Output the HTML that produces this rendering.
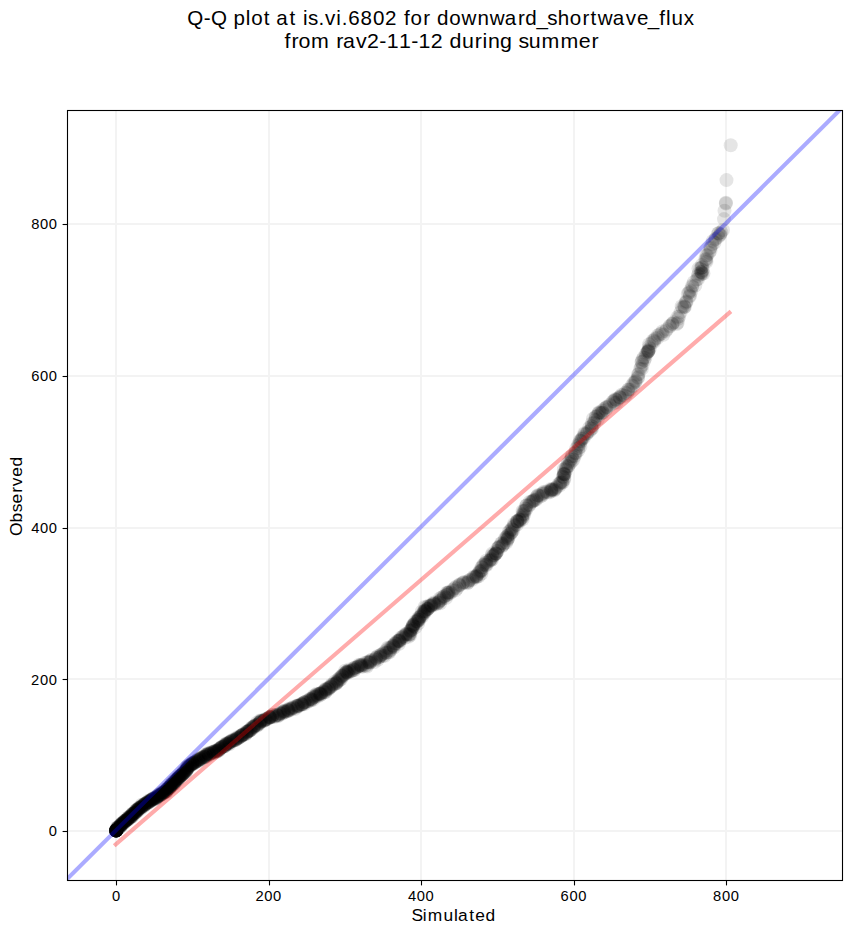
<!DOCTYPE html>
<html><head><meta charset="utf-8"><style>
html,body{margin:0;padding:0;background:#fff;overflow:hidden;}
svg{display:block;}
text{font-family:"Liberation Sans",sans-serif;fill:#000;}
</style></head><body>
<svg width="851" height="934" viewBox="0 0 851 934">
<rect width="851" height="934" fill="#fff"/>
<text x="180.13 195.81 202.97 218.53 224.64 236.40 241.50 253.69 260.60 265.68 278.45 285.36 291.33 296.27 306.16 312.54 323.42 328.52 334.75 346.65 358.55 370.08 382.23 388.58 394.75 406.97 414.32 420.21 432.01 443.82 459.17 470.98 485.39 498.20 505.06 515.85 526.19 536.31 547.87 560.10 567.87 574.83 589.24 601.72 612.48 622.94 634.01 640.36 645.63 657.57" y="24.75" font-size="19.8" transform="scale(1.04,1)">Q-Q plot at is.vi.6802 for downward_shortwave_flux</text>
<text x="263.32 269.88 276.34 288.01 305.14 311.43 317.54 329.60 339.85 351.28 358.04 369.50 380.80 387.55 398.88 410.58 416.26 427.77 439.68 446.78 451.80 463.01 474.59 480.02 489.69 501.44 518.92 535.89 547.66" y="47.7" font-size="19.8" transform="scale(1.08,1)">from rav2-11-12 during summer</text>
<defs><clipPath id="ax"><rect x="67.5" y="110.5" width="775.0" height="770.0"/></clipPath></defs>
<g stroke="#f3f3f3" stroke-width="2"><line x1="116" y1="110.5" x2="116" y2="880.5"/><line x1="269" y1="110.5" x2="269" y2="880.5"/><line x1="421" y1="110.5" x2="421" y2="880.5"/><line x1="574" y1="110.5" x2="574" y2="880.5"/><line x1="726" y1="110.5" x2="726" y2="880.5"/><line x1="67.5" y1="831" x2="842.5" y2="831"/><line x1="67.5" y1="679" x2="842.5" y2="679"/><line x1="67.5" y1="528" x2="842.5" y2="528"/><line x1="67.5" y1="376" x2="842.5" y2="376"/><line x1="67.5" y1="224" x2="842.5" y2="224"/></g>
<g clip-path="url(#ax)">
<g fill="#000" fill-opacity="0.1"><circle r="7.0" cx="116.3" cy="830.3"/><circle r="7.0" cx="116.0" cy="830.5"/><circle r="7.0" cx="116.1" cy="830.3"/><circle r="7.0" cx="117.2" cy="829.4"/><circle r="7.0" cx="116.6" cy="829.7"/><circle r="7.0" cx="117.4" cy="829.4"/><circle r="7.0" cx="117.0" cy="829.6"/><circle r="7.0" cx="117.7" cy="828.7"/><circle r="7.0" cx="117.0" cy="828.6"/><circle r="7.0" cx="116.6" cy="828.5"/><circle r="7.0" cx="117.2" cy="827.9"/><circle r="7.0" cx="117.7" cy="827.7"/><circle r="7.0" cx="118.3" cy="828.2"/><circle r="7.0" cx="117.3" cy="827.3"/><circle r="7.0" cx="118.6" cy="827.6"/><circle r="7.0" cx="118.0" cy="827.2"/><circle r="7.0" cx="118.3" cy="827.3"/><circle r="7.0" cx="119.2" cy="827.8"/><circle r="7.0" cx="119.6" cy="826.5"/><circle r="7.0" cx="119.2" cy="826.5"/><circle r="7.0" cx="119.7" cy="826.5"/><circle r="7.0" cx="119.4" cy="825.8"/><circle r="7.0" cx="120.0" cy="827.1"/><circle r="7.0" cx="120.5" cy="826.1"/><circle r="7.0" cx="120.8" cy="824.6"/><circle r="7.0" cx="120.5" cy="826.1"/><circle r="7.0" cx="120.9" cy="825.0"/><circle r="7.0" cx="121.0" cy="824.7"/><circle r="7.0" cx="121.2" cy="824.5"/><circle r="7.0" cx="121.6" cy="825.3"/><circle r="7.0" cx="121.4" cy="824.6"/><circle r="7.0" cx="121.3" cy="824.6"/><circle r="7.0" cx="121.5" cy="823.8"/><circle r="7.0" cx="122.8" cy="823.7"/><circle r="7.0" cx="121.6" cy="823.3"/><circle r="7.0" cx="121.9" cy="824.3"/><circle r="7.0" cx="122.6" cy="823.0"/><circle r="7.0" cx="123.6" cy="823.3"/><circle r="7.0" cx="122.9" cy="822.8"/><circle r="7.0" cx="123.9" cy="822.1"/><circle r="7.0" cx="123.4" cy="822.4"/><circle r="7.0" cx="123.9" cy="822.5"/><circle r="7.0" cx="123.6" cy="822.4"/><circle r="7.0" cx="124.1" cy="822.1"/><circle r="7.0" cx="125.2" cy="822.0"/><circle r="7.0" cx="125.0" cy="821.4"/><circle r="7.0" cx="125.2" cy="821.0"/><circle r="7.0" cx="125.4" cy="821.1"/><circle r="7.0" cx="125.2" cy="820.4"/><circle r="7.0" cx="124.3" cy="820.9"/><circle r="7.0" cx="125.4" cy="820.9"/><circle r="7.0" cx="127.0" cy="819.8"/><circle r="7.0" cx="125.8" cy="820.2"/><circle r="7.0" cx="126.8" cy="820.1"/><circle r="7.0" cx="126.6" cy="820.0"/><circle r="7.0" cx="127.4" cy="819.9"/><circle r="7.0" cx="126.8" cy="819.2"/><circle r="7.0" cx="127.0" cy="819.8"/><circle r="7.0" cx="127.3" cy="819.7"/><circle r="7.0" cx="128.3" cy="819.4"/><circle r="7.0" cx="127.9" cy="819.1"/><circle r="7.0" cx="127.4" cy="819.3"/><circle r="7.0" cx="128.3" cy="817.9"/><circle r="7.0" cx="128.4" cy="817.2"/><circle r="7.0" cx="128.6" cy="817.3"/><circle r="7.0" cx="129.1" cy="817.4"/><circle r="7.0" cx="128.9" cy="818.3"/><circle r="7.0" cx="130.5" cy="817.5"/><circle r="7.0" cx="129.6" cy="817.5"/><circle r="7.0" cx="129.6" cy="817.4"/><circle r="7.0" cx="130.4" cy="817.5"/><circle r="7.0" cx="130.1" cy="817.0"/><circle r="7.0" cx="130.0" cy="816.7"/><circle r="7.0" cx="131.2" cy="816.9"/><circle r="7.0" cx="131.4" cy="816.5"/><circle r="7.0" cx="130.8" cy="815.9"/><circle r="7.0" cx="131.3" cy="815.5"/><circle r="7.0" cx="131.4" cy="815.5"/><circle r="7.0" cx="131.2" cy="815.1"/><circle r="7.0" cx="132.4" cy="816.0"/><circle r="7.0" cx="132.0" cy="814.5"/><circle r="7.0" cx="132.5" cy="815.7"/><circle r="7.0" cx="132.4" cy="814.7"/><circle r="7.0" cx="132.6" cy="813.5"/><circle r="7.0" cx="133.2" cy="814.1"/><circle r="7.0" cx="133.3" cy="813.5"/><circle r="7.0" cx="133.3" cy="813.6"/><circle r="7.0" cx="133.0" cy="813.5"/><circle r="7.0" cx="134.3" cy="814.0"/><circle r="7.0" cx="134.4" cy="813.2"/><circle r="7.0" cx="134.1" cy="812.9"/><circle r="7.0" cx="134.7" cy="813.1"/><circle r="7.0" cx="134.9" cy="812.4"/><circle r="7.0" cx="135.7" cy="812.5"/><circle r="7.0" cx="135.3" cy="812.4"/><circle r="7.0" cx="135.4" cy="811.0"/><circle r="7.0" cx="136.1" cy="812.0"/><circle r="7.0" cx="136.5" cy="811.3"/><circle r="7.0" cx="136.8" cy="811.2"/><circle r="7.0" cx="136.8" cy="810.3"/><circle r="7.0" cx="136.5" cy="810.1"/><circle r="7.0" cx="137.4" cy="810.4"/><circle r="7.0" cx="138.3" cy="810.5"/><circle r="7.0" cx="136.3" cy="810.3"/><circle r="7.0" cx="137.4" cy="810.6"/><circle r="7.0" cx="138.1" cy="809.4"/><circle r="7.0" cx="136.6" cy="809.7"/><circle r="7.0" cx="138.3" cy="809.4"/><circle r="7.0" cx="138.4" cy="809.0"/><circle r="7.0" cx="137.9" cy="809.0"/><circle r="7.0" cx="138.5" cy="809.0"/><circle r="7.0" cx="139.0" cy="807.7"/><circle r="7.0" cx="139.6" cy="808.2"/><circle r="7.0" cx="139.2" cy="807.9"/><circle r="7.0" cx="139.3" cy="807.8"/><circle r="7.0" cx="140.0" cy="808.1"/><circle r="7.0" cx="140.7" cy="807.6"/><circle r="7.0" cx="140.8" cy="808.6"/><circle r="7.0" cx="141.2" cy="807.6"/><circle r="7.0" cx="140.7" cy="807.4"/><circle r="7.0" cx="141.6" cy="806.4"/><circle r="7.0" cx="141.8" cy="806.6"/><circle r="7.0" cx="142.4" cy="806.0"/><circle r="7.0" cx="141.4" cy="806.9"/><circle r="7.0" cx="141.6" cy="806.3"/><circle r="7.0" cx="141.6" cy="804.7"/><circle r="7.0" cx="143.5" cy="806.2"/><circle r="7.0" cx="142.6" cy="805.3"/><circle r="7.0" cx="144.0" cy="805.7"/><circle r="7.0" cx="143.8" cy="805.2"/><circle r="7.0" cx="144.4" cy="804.7"/><circle r="7.0" cx="144.6" cy="804.9"/><circle r="7.0" cx="144.5" cy="803.9"/><circle r="7.0" cx="145.2" cy="803.7"/><circle r="7.0" cx="144.7" cy="803.7"/><circle r="7.0" cx="144.9" cy="804.3"/><circle r="7.0" cx="146.7" cy="804.0"/><circle r="7.0" cx="146.1" cy="803.1"/><circle r="7.0" cx="145.3" cy="804.2"/><circle r="7.0" cx="146.5" cy="803.3"/><circle r="7.0" cx="146.3" cy="803.3"/><circle r="7.0" cx="146.9" cy="802.7"/><circle r="7.0" cx="147.7" cy="802.9"/><circle r="7.0" cx="148.2" cy="801.9"/><circle r="7.0" cx="147.6" cy="802.0"/><circle r="7.0" cx="148.3" cy="800.8"/><circle r="7.0" cx="149.1" cy="802.0"/><circle r="7.0" cx="148.9" cy="802.0"/><circle r="7.0" cx="148.9" cy="801.7"/><circle r="7.0" cx="149.3" cy="801.2"/><circle r="7.0" cx="150.1" cy="801.7"/><circle r="7.0" cx="149.6" cy="801.2"/><circle r="7.0" cx="150.7" cy="800.2"/><circle r="7.0" cx="150.5" cy="800.9"/><circle r="7.0" cx="150.1" cy="800.7"/><circle r="7.0" cx="151.4" cy="800.1"/><circle r="7.0" cx="151.1" cy="800.1"/><circle r="7.0" cx="151.6" cy="799.9"/><circle r="7.0" cx="151.4" cy="799.2"/><circle r="7.0" cx="152.3" cy="799.2"/><circle r="7.0" cx="152.5" cy="799.1"/><circle r="7.0" cx="153.0" cy="800.1"/><circle r="7.0" cx="152.9" cy="798.9"/><circle r="7.0" cx="152.9" cy="799.3"/><circle r="7.0" cx="154.7" cy="798.6"/><circle r="7.0" cx="153.7" cy="798.7"/><circle r="7.0" cx="154.1" cy="798.0"/><circle r="7.0" cx="153.8" cy="798.1"/><circle r="7.0" cx="154.7" cy="799.0"/><circle r="7.0" cx="156.0" cy="798.2"/><circle r="7.0" cx="155.7" cy="797.9"/><circle r="7.0" cx="156.0" cy="798.7"/><circle r="7.0" cx="155.2" cy="797.7"/><circle r="7.0" cx="156.9" cy="797.1"/><circle r="7.0" cx="156.3" cy="797.9"/><circle r="7.0" cx="156.4" cy="796.8"/><circle r="7.0" cx="157.2" cy="797.1"/><circle r="7.0" cx="157.5" cy="796.8"/><circle r="7.0" cx="157.6" cy="796.4"/><circle r="7.0" cx="157.9" cy="796.5"/><circle r="7.0" cx="159.1" cy="795.9"/><circle r="7.0" cx="158.7" cy="796.2"/><circle r="7.0" cx="158.4" cy="795.0"/><circle r="7.0" cx="157.9" cy="795.2"/><circle r="7.0" cx="159.9" cy="795.5"/><circle r="7.0" cx="158.8" cy="795.7"/><circle r="7.0" cx="159.5" cy="795.1"/><circle r="7.0" cx="161.3" cy="794.4"/><circle r="7.0" cx="160.1" cy="795.0"/><circle r="7.0" cx="160.3" cy="794.0"/><circle r="7.0" cx="160.5" cy="794.5"/><circle r="7.0" cx="160.7" cy="794.5"/><circle r="7.0" cx="162.2" cy="794.0"/><circle r="7.0" cx="161.9" cy="794.3"/><circle r="7.0" cx="162.1" cy="793.8"/><circle r="7.0" cx="162.1" cy="793.3"/><circle r="7.0" cx="161.7" cy="793.0"/><circle r="7.0" cx="163.0" cy="793.3"/><circle r="7.0" cx="163.6" cy="792.6"/><circle r="7.0" cx="162.6" cy="792.0"/><circle r="7.0" cx="163.9" cy="792.4"/><circle r="7.0" cx="164.3" cy="791.7"/><circle r="7.0" cx="163.8" cy="792.4"/><circle r="7.0" cx="164.6" cy="791.2"/><circle r="7.0" cx="164.1" cy="792.3"/><circle r="7.0" cx="165.6" cy="791.8"/><circle r="7.0" cx="165.5" cy="791.9"/><circle r="7.0" cx="165.1" cy="791.2"/><circle r="7.0" cx="166.5" cy="792.0"/><circle r="7.0" cx="166.3" cy="791.5"/><circle r="7.0" cx="165.9" cy="791.1"/><circle r="7.0" cx="166.8" cy="789.8"/><circle r="7.0" cx="166.8" cy="789.2"/><circle r="7.0" cx="166.9" cy="790.2"/><circle r="7.0" cx="167.0" cy="789.5"/><circle r="7.0" cx="167.4" cy="789.5"/><circle r="7.0" cx="167.4" cy="788.8"/><circle r="7.0" cx="167.2" cy="788.9"/><circle r="7.0" cx="168.6" cy="788.2"/><circle r="7.0" cx="168.0" cy="787.7"/><circle r="7.0" cx="168.1" cy="788.2"/><circle r="7.0" cx="169.1" cy="788.3"/><circle r="7.0" cx="169.5" cy="788.4"/><circle r="7.0" cx="169.5" cy="787.6"/><circle r="7.0" cx="169.6" cy="786.6"/><circle r="7.0" cx="170.1" cy="786.6"/><circle r="7.0" cx="169.7" cy="787.0"/><circle r="7.0" cx="170.3" cy="786.3"/><circle r="7.0" cx="170.6" cy="786.8"/><circle r="7.0" cx="170.2" cy="786.5"/><circle r="7.0" cx="170.9" cy="786.3"/><circle r="7.0" cx="170.6" cy="784.9"/><circle r="7.0" cx="171.4" cy="786.1"/><circle r="7.0" cx="171.1" cy="784.8"/><circle r="7.0" cx="171.7" cy="784.2"/><circle r="7.0" cx="171.6" cy="784.4"/><circle r="7.0" cx="172.4" cy="784.7"/><circle r="7.0" cx="172.4" cy="784.5"/><circle r="7.0" cx="171.8" cy="784.0"/><circle r="7.0" cx="173.7" cy="784.2"/><circle r="7.0" cx="173.4" cy="783.4"/><circle r="7.0" cx="173.7" cy="783.1"/><circle r="7.0" cx="174.2" cy="783.8"/><circle r="7.0" cx="173.1" cy="782.4"/><circle r="7.0" cx="174.1" cy="781.6"/><circle r="7.0" cx="174.5" cy="782.6"/><circle r="7.0" cx="174.1" cy="781.5"/><circle r="7.0" cx="174.5" cy="783.1"/><circle r="7.0" cx="175.1" cy="781.9"/><circle r="7.0" cx="175.4" cy="781.9"/><circle r="7.0" cx="175.0" cy="781.3"/><circle r="7.0" cx="176.0" cy="779.8"/><circle r="7.0" cx="176.3" cy="780.8"/><circle r="7.0" cx="175.4" cy="780.5"/><circle r="7.0" cx="176.4" cy="779.8"/><circle r="7.0" cx="176.8" cy="779.7"/><circle r="7.0" cx="176.7" cy="779.0"/><circle r="7.0" cx="177.8" cy="778.7"/><circle r="7.0" cx="178.1" cy="779.7"/><circle r="7.0" cx="177.5" cy="778.5"/><circle r="7.0" cx="177.6" cy="778.5"/><circle r="7.0" cx="177.8" cy="778.6"/><circle r="7.0" cx="178.7" cy="778.2"/><circle r="7.0" cx="178.8" cy="777.9"/><circle r="7.0" cx="178.4" cy="777.6"/><circle r="7.0" cx="178.9" cy="777.4"/><circle r="7.0" cx="179.6" cy="777.1"/><circle r="7.0" cx="179.3" cy="776.2"/><circle r="7.0" cx="179.2" cy="776.3"/><circle r="7.0" cx="179.4" cy="776.9"/><circle r="7.0" cx="180.5" cy="776.0"/><circle r="7.0" cx="180.5" cy="775.9"/><circle r="7.0" cx="180.4" cy="775.8"/><circle r="7.0" cx="180.9" cy="775.4"/><circle r="7.0" cx="181.0" cy="775.5"/><circle r="7.0" cx="181.8" cy="774.8"/><circle r="7.0" cx="181.7" cy="774.7"/><circle r="7.0" cx="181.7" cy="775.1"/><circle r="7.0" cx="182.7" cy="774.2"/><circle r="7.0" cx="182.9" cy="773.8"/><circle r="7.0" cx="182.6" cy="773.4"/><circle r="7.0" cx="183.5" cy="773.5"/><circle r="7.0" cx="182.9" cy="773.7"/><circle r="7.0" cx="184.3" cy="772.6"/><circle r="7.0" cx="184.4" cy="772.9"/><circle r="7.0" cx="184.0" cy="771.4"/><circle r="7.0" cx="183.4" cy="773.0"/><circle r="7.0" cx="184.2" cy="772.5"/><circle r="7.0" cx="184.2" cy="771.4"/><circle r="7.0" cx="185.5" cy="771.9"/><circle r="7.0" cx="186.0" cy="770.4"/><circle r="7.0" cx="186.2" cy="771.2"/><circle r="7.0" cx="185.4" cy="770.9"/><circle r="7.0" cx="185.8" cy="769.9"/><circle r="7.0" cx="186.4" cy="770.0"/><circle r="7.0" cx="186.6" cy="770.2"/><circle r="7.0" cx="186.8" cy="769.0"/><circle r="7.0" cx="187.4" cy="768.7"/><circle r="7.0" cx="187.1" cy="768.9"/><circle r="7.0" cx="187.2" cy="768.9"/><circle r="7.0" cx="187.0" cy="767.4"/><circle r="7.0" cx="187.8" cy="767.6"/><circle r="7.0" cx="187.2" cy="767.1"/><circle r="7.0" cx="187.7" cy="767.4"/><circle r="7.0" cx="187.4" cy="766.3"/><circle r="7.0" cx="189.1" cy="766.7"/><circle r="7.0" cx="188.6" cy="766.1"/><circle r="7.0" cx="188.6" cy="767.3"/><circle r="7.0" cx="189.4" cy="765.4"/><circle r="7.0" cx="190.5" cy="765.2"/><circle r="7.0" cx="190.3" cy="765.6"/><circle r="7.0" cx="190.6" cy="764.9"/><circle r="7.0" cx="190.4" cy="764.6"/><circle r="7.0" cx="191.9" cy="764.5"/><circle r="7.0" cx="191.1" cy="764.4"/><circle r="7.0" cx="192.2" cy="763.9"/><circle r="7.0" cx="192.5" cy="763.6"/><circle r="7.0" cx="191.9" cy="763.4"/><circle r="7.0" cx="192.8" cy="763.3"/><circle r="7.0" cx="192.5" cy="764.2"/><circle r="7.0" cx="193.1" cy="762.7"/><circle r="7.0" cx="192.7" cy="763.1"/><circle r="7.0" cx="194.4" cy="763.0"/><circle r="7.0" cx="194.2" cy="762.8"/><circle r="7.0" cx="194.7" cy="762.8"/><circle r="7.0" cx="194.8" cy="762.8"/><circle r="7.0" cx="195.1" cy="761.5"/><circle r="7.0" cx="195.8" cy="761.2"/><circle r="7.0" cx="195.6" cy="761.8"/><circle r="7.0" cx="196.2" cy="761.4"/><circle r="7.0" cx="196.6" cy="761.6"/><circle r="7.0" cx="197.4" cy="760.3"/><circle r="7.0" cx="198.8" cy="761.0"/><circle r="7.0" cx="197.8" cy="760.4"/><circle r="7.0" cx="198.3" cy="760.9"/><circle r="7.0" cx="198.2" cy="759.5"/><circle r="7.0" cx="198.5" cy="760.1"/><circle r="7.0" cx="198.0" cy="759.2"/><circle r="7.0" cx="199.3" cy="759.8"/><circle r="7.0" cx="199.9" cy="759.0"/><circle r="7.0" cx="200.2" cy="759.3"/><circle r="7.0" cx="200.4" cy="759.1"/><circle r="7.0" cx="200.4" cy="758.6"/><circle r="7.0" cx="201.6" cy="758.8"/><circle r="7.0" cx="201.4" cy="757.8"/><circle r="7.0" cx="202.3" cy="757.6"/><circle r="7.0" cx="201.6" cy="757.3"/><circle r="7.0" cx="203.9" cy="756.7"/><circle r="7.0" cx="203.4" cy="757.7"/><circle r="7.0" cx="204.6" cy="756.9"/><circle r="7.0" cx="203.7" cy="756.8"/><circle r="7.0" cx="204.8" cy="757.1"/><circle r="7.0" cx="204.5" cy="756.9"/><circle r="7.0" cx="206.3" cy="756.7"/><circle r="7.0" cx="205.8" cy="756.1"/><circle r="7.0" cx="205.6" cy="754.8"/><circle r="7.0" cx="206.3" cy="755.4"/><circle r="7.0" cx="206.5" cy="755.8"/><circle r="7.0" cx="206.7" cy="754.4"/><circle r="7.0" cx="206.9" cy="754.8"/><circle r="7.0" cx="207.4" cy="754.6"/><circle r="7.0" cx="208.0" cy="753.3"/><circle r="7.0" cx="209.0" cy="754.3"/><circle r="7.0" cx="209.2" cy="755.1"/><circle r="7.0" cx="208.5" cy="753.4"/><circle r="7.0" cx="209.2" cy="753.4"/><circle r="7.0" cx="209.2" cy="754.1"/><circle r="7.0" cx="209.8" cy="754.0"/><circle r="7.0" cx="210.9" cy="753.5"/><circle r="7.0" cx="211.1" cy="753.0"/><circle r="7.0" cx="211.3" cy="752.8"/><circle r="7.0" cx="211.7" cy="752.0"/><circle r="7.0" cx="213.8" cy="753.0"/><circle r="7.0" cx="213.4" cy="752.9"/><circle r="7.0" cx="213.8" cy="751.6"/><circle r="7.0" cx="213.6" cy="752.1"/><circle r="7.0" cx="214.1" cy="751.7"/><circle r="7.0" cx="214.3" cy="751.5"/><circle r="7.0" cx="214.5" cy="751.1"/><circle r="7.0" cx="215.8" cy="752.4"/><circle r="7.0" cx="215.9" cy="750.9"/><circle r="7.0" cx="215.8" cy="751.5"/><circle r="7.0" cx="216.9" cy="750.5"/><circle r="7.0" cx="217.1" cy="750.7"/><circle r="7.0" cx="217.4" cy="751.2"/><circle r="7.0" cx="217.6" cy="750.4"/><circle r="7.0" cx="217.8" cy="751.1"/><circle r="7.0" cx="218.1" cy="749.6"/><circle r="7.0" cx="219.3" cy="749.5"/><circle r="7.0" cx="219.1" cy="750.2"/><circle r="7.0" cx="219.7" cy="749.3"/><circle r="7.0" cx="220.1" cy="748.2"/><circle r="7.0" cx="219.4" cy="748.6"/><circle r="7.0" cx="220.1" cy="748.4"/><circle r="7.0" cx="221.2" cy="747.5"/><circle r="7.0" cx="222.4" cy="747.3"/><circle r="7.0" cx="221.2" cy="747.7"/><circle r="7.0" cx="221.8" cy="747.1"/><circle r="7.0" cx="222.6" cy="746.2"/><circle r="7.0" cx="222.1" cy="746.9"/><circle r="7.0" cx="223.6" cy="746.7"/><circle r="7.0" cx="224.1" cy="746.2"/><circle r="7.0" cx="224.5" cy="746.0"/><circle r="7.0" cx="225.2" cy="746.0"/><circle r="7.0" cx="225.3" cy="745.3"/><circle r="7.0" cx="225.0" cy="744.5"/><circle r="7.0" cx="225.9" cy="744.6"/><circle r="7.0" cx="226.5" cy="743.5"/><circle r="7.0" cx="226.2" cy="744.6"/><circle r="7.0" cx="226.5" cy="743.3"/><circle r="7.0" cx="227.2" cy="743.9"/><circle r="7.0" cx="227.7" cy="743.7"/><circle r="7.0" cx="228.1" cy="743.7"/><circle r="7.0" cx="229.1" cy="742.8"/><circle r="7.0" cx="229.3" cy="744.2"/><circle r="7.0" cx="229.1" cy="742.6"/><circle r="7.0" cx="229.7" cy="742.9"/><circle r="7.0" cx="230.3" cy="741.9"/><circle r="7.0" cx="230.1" cy="741.7"/><circle r="7.0" cx="230.2" cy="741.9"/><circle r="7.0" cx="231.1" cy="740.9"/><circle r="7.0" cx="232.0" cy="741.2"/><circle r="7.0" cx="231.9" cy="740.2"/><circle r="7.0" cx="233.4" cy="740.9"/><circle r="7.0" cx="233.0" cy="740.6"/><circle r="7.0" cx="233.7" cy="740.6"/><circle r="7.0" cx="233.6" cy="739.6"/><circle r="7.0" cx="235.2" cy="740.2"/><circle r="7.0" cx="235.2" cy="740.0"/><circle r="7.0" cx="235.5" cy="739.7"/><circle r="7.0" cx="237.1" cy="738.2"/><circle r="7.0" cx="236.4" cy="739.1"/><circle r="7.0" cx="236.9" cy="738.3"/><circle r="7.0" cx="237.3" cy="738.9"/><circle r="7.0" cx="237.1" cy="737.3"/><circle r="7.0" cx="238.1" cy="737.7"/><circle r="7.0" cx="239.0" cy="737.9"/><circle r="7.0" cx="238.7" cy="737.8"/><circle r="7.0" cx="240.5" cy="736.7"/><circle r="7.0" cx="240.1" cy="736.9"/><circle r="7.0" cx="241.1" cy="736.0"/><circle r="7.0" cx="240.5" cy="735.7"/><circle r="7.0" cx="241.7" cy="735.8"/><circle r="7.0" cx="241.7" cy="735.2"/><circle r="7.0" cx="242.1" cy="735.1"/><circle r="7.0" cx="241.9" cy="735.3"/><circle r="7.0" cx="243.3" cy="734.5"/><circle r="7.0" cx="243.0" cy="734.1"/><circle r="7.0" cx="243.5" cy="734.8"/><circle r="7.0" cx="243.8" cy="734.3"/><circle r="7.0" cx="246.1" cy="733.6"/><circle r="7.0" cx="245.7" cy="734.4"/><circle r="7.0" cx="245.9" cy="733.4"/><circle r="7.0" cx="246.8" cy="732.3"/><circle r="7.0" cx="246.5" cy="731.5"/><circle r="7.0" cx="247.5" cy="731.7"/><circle r="7.0" cx="247.0" cy="732.2"/><circle r="7.0" cx="248.2" cy="731.3"/><circle r="7.0" cx="248.4" cy="731.0"/><circle r="7.0" cx="247.4" cy="731.4"/><circle r="7.0" cx="249.6" cy="730.7"/><circle r="7.0" cx="249.5" cy="730.2"/><circle r="7.0" cx="250.0" cy="730.5"/><circle r="7.0" cx="249.9" cy="729.3"/><circle r="7.0" cx="250.5" cy="730.2"/><circle r="7.0" cx="251.2" cy="729.6"/><circle r="7.0" cx="251.7" cy="727.5"/><circle r="7.0" cx="251.2" cy="728.6"/><circle r="7.0" cx="252.7" cy="727.3"/><circle r="7.0" cx="253.0" cy="728.2"/><circle r="7.0" cx="253.7" cy="727.1"/><circle r="7.0" cx="253.6" cy="726.4"/><circle r="7.0" cx="253.8" cy="726.7"/><circle r="7.0" cx="254.4" cy="725.8"/><circle r="7.0" cx="254.7" cy="726.0"/><circle r="7.0" cx="255.7" cy="724.9"/><circle r="7.0" cx="256.4" cy="724.9"/><circle r="7.0" cx="257.0" cy="725.2"/><circle r="7.0" cx="257.2" cy="725.9"/><circle r="7.0" cx="257.3" cy="724.7"/><circle r="7.0" cx="259.2" cy="724.1"/><circle r="7.0" cx="256.8" cy="722.8"/><circle r="7.0" cx="259.2" cy="723.1"/><circle r="7.0" cx="259.2" cy="723.2"/><circle r="7.0" cx="259.8" cy="722.5"/><circle r="7.0" cx="260.3" cy="721.7"/><circle r="7.0" cx="260.0" cy="720.4"/><circle r="7.0" cx="261.1" cy="720.7"/><circle r="7.0" cx="260.7" cy="721.5"/><circle r="7.0" cx="261.4" cy="721.6"/><circle r="7.0" cx="261.2" cy="720.8"/><circle r="7.0" cx="263.2" cy="720.4"/><circle r="7.0" cx="263.5" cy="721.0"/><circle r="7.0" cx="264.2" cy="720.7"/><circle r="7.0" cx="264.7" cy="719.7"/><circle r="7.0" cx="265.0" cy="720.3"/><circle r="7.0" cx="265.2" cy="719.3"/><circle r="7.0" cx="265.4" cy="719.4"/><circle r="7.0" cx="266.5" cy="719.6"/><circle r="7.0" cx="266.6" cy="719.1"/><circle r="7.0" cx="267.8" cy="718.4"/><circle r="7.0" cx="269.1" cy="717.3"/><circle r="7.0" cx="269.7" cy="717.5"/><circle r="7.0" cx="268.9" cy="718.4"/><circle r="7.0" cx="269.9" cy="717.0"/><circle r="7.0" cx="270.2" cy="717.3"/><circle r="7.0" cx="269.5" cy="717.3"/><circle r="7.0" cx="269.8" cy="717.2"/><circle r="7.0" cx="271.4" cy="717.1"/><circle r="7.0" cx="272.1" cy="716.0"/><circle r="7.0" cx="272.1" cy="716.8"/><circle r="7.0" cx="272.5" cy="715.1"/><circle r="7.0" cx="273.1" cy="714.7"/><circle r="7.0" cx="274.5" cy="717.0"/><circle r="7.0" cx="274.5" cy="716.3"/><circle r="7.0" cx="275.7" cy="715.6"/><circle r="7.0" cx="276.9" cy="714.9"/><circle r="7.0" cx="277.6" cy="716.1"/><circle r="7.0" cx="277.0" cy="715.0"/><circle r="7.0" cx="278.3" cy="714.9"/><circle r="7.0" cx="279.1" cy="714.8"/><circle r="7.0" cx="278.6" cy="715.8"/><circle r="7.0" cx="280.5" cy="713.2"/><circle r="7.0" cx="279.9" cy="713.4"/><circle r="7.0" cx="280.1" cy="713.4"/><circle r="7.0" cx="283.4" cy="712.2"/><circle r="7.0" cx="281.9" cy="713.8"/><circle r="7.0" cx="282.3" cy="711.9"/><circle r="7.0" cx="283.2" cy="713.1"/><circle r="7.0" cx="284.4" cy="711.1"/><circle r="7.0" cx="284.6" cy="712.3"/><circle r="7.0" cx="283.7" cy="711.0"/><circle r="7.0" cx="283.9" cy="711.3"/><circle r="7.0" cx="286.0" cy="711.6"/><circle r="7.0" cx="288.2" cy="710.3"/><circle r="7.0" cx="286.9" cy="711.5"/><circle r="7.0" cx="288.9" cy="710.3"/><circle r="7.0" cx="287.6" cy="709.6"/><circle r="7.0" cx="287.9" cy="710.0"/><circle r="7.0" cx="288.4" cy="711.1"/><circle r="7.0" cx="289.7" cy="708.4"/><circle r="7.0" cx="290.8" cy="708.6"/><circle r="7.0" cx="291.3" cy="708.9"/><circle r="7.0" cx="290.9" cy="709.8"/><circle r="7.0" cx="292.1" cy="708.3"/><circle r="7.0" cx="293.4" cy="707.8"/><circle r="7.0" cx="293.1" cy="707.1"/><circle r="7.0" cx="294.9" cy="707.8"/><circle r="7.0" cx="296.3" cy="705.9"/><circle r="7.0" cx="295.3" cy="708.9"/><circle r="7.0" cx="298.2" cy="706.0"/><circle r="7.0" cx="297.2" cy="706.8"/><circle r="7.0" cx="296.9" cy="706.0"/><circle r="7.0" cx="297.6" cy="705.7"/><circle r="7.0" cx="298.6" cy="706.1"/><circle r="7.0" cx="298.2" cy="705.3"/><circle r="7.0" cx="299.2" cy="705.2"/><circle r="7.0" cx="301.2" cy="704.2"/><circle r="7.0" cx="301.6" cy="704.5"/><circle r="7.0" cx="301.9" cy="704.3"/><circle r="7.0" cx="302.1" cy="703.8"/><circle r="7.0" cx="302.4" cy="704.5"/><circle r="7.0" cx="304.1" cy="704.2"/><circle r="7.0" cx="303.6" cy="702.6"/><circle r="7.0" cx="304.6" cy="702.2"/><circle r="7.0" cx="305.9" cy="701.6"/><circle r="7.0" cx="304.1" cy="702.4"/><circle r="7.0" cx="304.9" cy="702.3"/><circle r="7.0" cx="307.8" cy="701.1"/><circle r="7.0" cx="307.1" cy="702.2"/><circle r="7.0" cx="309.1" cy="699.5"/><circle r="7.0" cx="308.9" cy="700.7"/><circle r="7.0" cx="311.6" cy="699.7"/><circle r="7.0" cx="310.6" cy="700.6"/><circle r="7.0" cx="311.2" cy="699.3"/><circle r="7.0" cx="310.1" cy="699.0"/><circle r="7.0" cx="311.0" cy="699.1"/><circle r="7.0" cx="312.3" cy="698.2"/><circle r="7.0" cx="313.2" cy="699.9"/><circle r="7.0" cx="313.3" cy="697.5"/><circle r="7.0" cx="314.9" cy="697.0"/><circle r="7.0" cx="313.8" cy="696.8"/><circle r="7.0" cx="313.7" cy="695.7"/><circle r="7.0" cx="316.0" cy="696.4"/><circle r="7.0" cx="315.6" cy="695.1"/><circle r="7.0" cx="317.3" cy="695.2"/><circle r="7.0" cx="317.1" cy="694.7"/><circle r="7.0" cx="316.6" cy="693.8"/><circle r="7.0" cx="317.7" cy="696.5"/><circle r="7.0" cx="319.4" cy="693.7"/><circle r="7.0" cx="319.2" cy="693.8"/><circle r="7.0" cx="320.6" cy="693.4"/><circle r="7.0" cx="319.7" cy="693.8"/><circle r="7.0" cx="321.1" cy="693.0"/><circle r="7.0" cx="322.3" cy="692.0"/><circle r="7.0" cx="324.0" cy="692.3"/><circle r="7.0" cx="324.1" cy="691.1"/><circle r="7.0" cx="325.6" cy="691.9"/><circle r="7.0" cx="325.3" cy="692.3"/><circle r="7.0" cx="325.9" cy="690.3"/><circle r="7.0" cx="325.3" cy="689.4"/><circle r="7.0" cx="326.0" cy="689.8"/><circle r="7.0" cx="325.5" cy="688.9"/><circle r="7.0" cx="328.2" cy="688.6"/><circle r="7.0" cx="328.6" cy="689.4"/><circle r="7.0" cx="328.0" cy="688.5"/><circle r="7.0" cx="329.3" cy="688.1"/><circle r="7.0" cx="331.2" cy="686.8"/><circle r="7.0" cx="329.3" cy="687.7"/><circle r="7.0" cx="329.4" cy="686.7"/><circle r="7.0" cx="331.6" cy="684.5"/><circle r="7.0" cx="331.1" cy="686.5"/><circle r="7.0" cx="333.7" cy="684.9"/><circle r="7.0" cx="332.4" cy="684.8"/><circle r="7.0" cx="333.5" cy="683.9"/><circle r="7.0" cx="335.3" cy="683.6"/><circle r="7.0" cx="336.2" cy="683.5"/><circle r="7.0" cx="336.4" cy="683.5"/><circle r="7.0" cx="334.9" cy="681.5"/><circle r="7.0" cx="336.3" cy="682.4"/><circle r="7.0" cx="337.1" cy="682.4"/><circle r="7.0" cx="337.8" cy="679.7"/><circle r="7.0" cx="338.5" cy="680.9"/><circle r="7.0" cx="339.8" cy="680.0"/><circle r="7.0" cx="337.6" cy="681.3"/><circle r="7.0" cx="338.8" cy="679.0"/><circle r="7.0" cx="339.6" cy="677.9"/><circle r="7.0" cx="340.9" cy="679.2"/><circle r="7.0" cx="341.7" cy="675.7"/><circle r="7.0" cx="340.6" cy="677.6"/><circle r="7.0" cx="342.6" cy="676.5"/><circle r="7.0" cx="342.7" cy="675.3"/><circle r="7.0" cx="342.3" cy="675.9"/><circle r="7.0" cx="344.4" cy="674.8"/><circle r="7.0" cx="344.1" cy="674.0"/><circle r="7.0" cx="346.6" cy="672.3"/><circle r="7.0" cx="345.9" cy="672.3"/><circle r="7.0" cx="345.7" cy="673.2"/><circle r="7.0" cx="347.4" cy="672.6"/><circle r="7.0" cx="348.0" cy="672.8"/><circle r="7.0" cx="346.8" cy="671.6"/><circle r="7.0" cx="348.8" cy="671.1"/><circle r="7.0" cx="349.6" cy="671.8"/><circle r="7.0" cx="351.1" cy="670.8"/><circle r="7.0" cx="348.8" cy="670.9"/><circle r="7.0" cx="349.0" cy="669.4"/><circle r="7.0" cx="351.3" cy="671.2"/><circle r="7.0" cx="353.0" cy="670.0"/><circle r="7.0" cx="354.2" cy="670.0"/><circle r="7.0" cx="353.2" cy="668.6"/><circle r="7.0" cx="354.3" cy="668.3"/><circle r="7.0" cx="354.6" cy="667.5"/><circle r="7.0" cx="354.7" cy="669.7"/><circle r="7.0" cx="355.5" cy="667.9"/><circle r="7.0" cx="357.6" cy="666.9"/><circle r="7.0" cx="358.3" cy="666.4"/><circle r="7.0" cx="358.9" cy="664.7"/><circle r="7.0" cx="359.5" cy="665.5"/><circle r="7.0" cx="357.5" cy="666.9"/><circle r="7.0" cx="360.7" cy="665.0"/><circle r="7.0" cx="362.1" cy="666.9"/><circle r="7.0" cx="361.0" cy="665.9"/><circle r="7.0" cx="365.1" cy="665.9"/><circle r="7.0" cx="363.6" cy="664.9"/><circle r="7.0" cx="365.0" cy="662.7"/><circle r="7.0" cx="367.0" cy="666.6"/><circle r="7.0" cx="367.2" cy="665.1"/><circle r="7.0" cx="367.9" cy="662.2"/><circle r="7.0" cx="367.2" cy="662.3"/><circle r="7.0" cx="369.6" cy="662.7"/><circle r="7.0" cx="370.0" cy="662.6"/><circle r="7.0" cx="368.8" cy="662.0"/><circle r="7.0" cx="370.4" cy="662.0"/><circle r="7.0" cx="370.1" cy="660.6"/><circle r="7.0" cx="370.7" cy="661.2"/><circle r="7.0" cx="371.3" cy="659.9"/><circle r="7.0" cx="374.6" cy="659.9"/><circle r="7.0" cx="374.5" cy="662.0"/><circle r="7.0" cx="376.0" cy="658.1"/><circle r="7.0" cx="376.0" cy="658.7"/><circle r="7.0" cx="377.8" cy="659.8"/><circle r="7.0" cx="375.9" cy="657.6"/><circle r="7.0" cx="378.8" cy="657.4"/><circle r="7.0" cx="377.4" cy="656.3"/><circle r="7.0" cx="380.5" cy="656.4"/><circle r="7.0" cx="380.5" cy="655.0"/><circle r="7.0" cx="379.9" cy="656.9"/><circle r="7.0" cx="381.8" cy="654.5"/><circle r="7.0" cx="380.3" cy="655.3"/><circle r="7.0" cx="383.3" cy="653.4"/><circle r="7.0" cx="382.8" cy="656.0"/><circle r="7.0" cx="384.8" cy="655.8"/><circle r="7.0" cx="386.3" cy="652.8"/><circle r="7.0" cx="386.1" cy="652.9"/><circle r="7.0" cx="385.8" cy="650.6"/><circle r="7.0" cx="384.5" cy="652.2"/><circle r="7.0" cx="389.5" cy="652.4"/><circle r="7.0" cx="388.3" cy="652.2"/><circle r="7.0" cx="390.5" cy="649.9"/><circle r="7.0" cx="390.0" cy="650.5"/><circle r="7.0" cx="388.8" cy="648.1"/><circle r="7.0" cx="387.7" cy="647.8"/><circle r="7.0" cx="390.2" cy="648.5"/><circle r="7.0" cx="391.3" cy="647.3"/><circle r="7.0" cx="394.1" cy="647.5"/><circle r="7.0" cx="393.5" cy="645.7"/><circle r="7.0" cx="392.5" cy="645.6"/><circle r="7.0" cx="393.4" cy="646.8"/><circle r="7.0" cx="393.3" cy="645.6"/><circle r="7.0" cx="396.3" cy="643.5"/><circle r="7.0" cx="395.3" cy="643.3"/><circle r="7.0" cx="394.8" cy="643.5"/><circle r="7.0" cx="397.0" cy="641.2"/><circle r="7.0" cx="399.1" cy="643.8"/><circle r="7.0" cx="397.9" cy="641.0"/><circle r="7.0" cx="398.8" cy="640.7"/><circle r="7.0" cx="399.4" cy="641.0"/><circle r="7.0" cx="399.6" cy="641.2"/><circle r="7.0" cx="398.7" cy="640.7"/><circle r="7.0" cx="399.5" cy="640.0"/><circle r="7.0" cx="400.5" cy="639.4"/><circle r="7.0" cx="402.2" cy="638.2"/><circle r="7.0" cx="401.0" cy="637.5"/><circle r="7.0" cx="402.9" cy="636.4"/><circle r="7.0" cx="405.0" cy="637.9"/><circle r="7.0" cx="405.1" cy="635.6"/><circle r="7.0" cx="405.3" cy="634.3"/><circle r="7.0" cx="402.9" cy="636.7"/><circle r="7.0" cx="408.5" cy="636.7"/><circle r="7.0" cx="406.3" cy="634.2"/><circle r="7.0" cx="407.3" cy="634.4"/><circle r="7.0" cx="406.7" cy="633.5"/><circle r="7.0" cx="408.8" cy="634.2"/><circle r="7.0" cx="409.7" cy="634.4"/><circle r="7.0" cx="410.3" cy="635.2"/><circle r="7.0" cx="409.7" cy="634.2"/><circle r="7.0" cx="410.1" cy="630.5"/><circle r="7.0" cx="410.3" cy="630.6"/><circle r="7.0" cx="410.7" cy="631.5"/><circle r="7.0" cx="411.0" cy="630.4"/><circle r="7.0" cx="411.7" cy="628.7"/><circle r="7.0" cx="412.4" cy="629.5"/><circle r="7.0" cx="411.8" cy="627.7"/><circle r="7.0" cx="413.1" cy="626.8"/><circle r="7.0" cx="415.5" cy="627.3"/><circle r="7.0" cx="413.4" cy="626.4"/><circle r="7.0" cx="412.7" cy="626.1"/><circle r="7.0" cx="413.2" cy="624.8"/><circle r="7.0" cx="414.6" cy="623.7"/><circle r="7.0" cx="414.5" cy="623.9"/><circle r="7.0" cx="415.3" cy="621.5"/><circle r="7.0" cx="417.0" cy="621.6"/><circle r="7.0" cx="417.5" cy="621.4"/><circle r="7.0" cx="416.7" cy="620.9"/><circle r="7.0" cx="418.3" cy="623.2"/><circle r="7.0" cx="419.1" cy="619.7"/><circle r="7.0" cx="418.4" cy="619.5"/><circle r="7.0" cx="418.8" cy="620.3"/><circle r="7.0" cx="418.5" cy="619.4"/><circle r="7.0" cx="418.2" cy="618.2"/><circle r="7.0" cx="419.4" cy="617.3"/><circle r="7.0" cx="419.4" cy="618.1"/><circle r="7.0" cx="422.3" cy="616.6"/><circle r="7.0" cx="421.0" cy="616.4"/><circle r="7.0" cx="421.4" cy="614.7"/><circle r="7.0" cx="420.9" cy="616.1"/><circle r="7.0" cx="424.2" cy="612.4"/><circle r="7.0" cx="421.7" cy="611.7"/><circle r="7.0" cx="423.1" cy="613.2"/><circle r="7.0" cx="423.7" cy="613.9"/><circle r="7.0" cx="424.7" cy="610.8"/><circle r="7.0" cx="423.8" cy="611.4"/><circle r="7.0" cx="424.5" cy="611.0"/><circle r="7.0" cx="425.7" cy="611.5"/><circle r="7.0" cx="425.4" cy="610.9"/><circle r="7.0" cx="426.4" cy="609.4"/><circle r="7.0" cx="424.6" cy="606.9"/><circle r="7.0" cx="425.8" cy="607.6"/><circle r="7.0" cx="427.7" cy="608.9"/><circle r="7.0" cx="428.6" cy="605.4"/><circle r="7.0" cx="429.8" cy="606.0"/><circle r="7.0" cx="428.4" cy="606.8"/><circle r="7.0" cx="430.8" cy="605.4"/><circle r="7.0" cx="430.8" cy="606.5"/><circle r="7.0" cx="431.1" cy="605.5"/><circle r="7.0" cx="433.3" cy="603.9"/><circle r="7.0" cx="431.5" cy="605.2"/><circle r="7.0" cx="433.8" cy="603.8"/><circle r="7.0" cx="434.2" cy="604.8"/><circle r="7.0" cx="434.5" cy="603.3"/><circle r="7.0" cx="433.7" cy="602.5"/><circle r="7.0" cx="436.1" cy="604.2"/><circle r="7.0" cx="438.3" cy="602.5"/><circle r="7.0" cx="438.1" cy="603.0"/><circle r="7.0" cx="440.2" cy="603.3"/><circle r="7.0" cx="439.5" cy="600.7"/><circle r="7.0" cx="439.3" cy="601.8"/><circle r="7.0" cx="440.4" cy="600.6"/><circle r="7.0" cx="439.8" cy="598.4"/><circle r="7.0" cx="441.4" cy="599.4"/><circle r="7.0" cx="441.4" cy="597.6"/><circle r="7.0" cx="443.5" cy="598.1"/><circle r="7.0" cx="444.0" cy="596.4"/><circle r="7.0" cx="444.0" cy="596.2"/><circle r="7.0" cx="446.0" cy="598.0"/><circle r="7.0" cx="447.0" cy="594.8"/><circle r="7.0" cx="446.8" cy="595.1"/><circle r="7.0" cx="449.0" cy="594.0"/><circle r="7.0" cx="446.7" cy="592.7"/><circle r="7.0" cx="448.2" cy="593.1"/><circle r="7.0" cx="449.3" cy="592.3"/><circle r="7.0" cx="450.9" cy="592.5"/><circle r="7.0" cx="452.7" cy="590.8"/><circle r="7.0" cx="452.9" cy="589.5"/><circle r="7.0" cx="455.6" cy="590.4"/><circle r="7.0" cx="454.7" cy="588.1"/><circle r="7.0" cx="455.9" cy="586.8"/><circle r="7.0" cx="457.1" cy="588.2"/><circle r="7.0" cx="459.3" cy="585.5"/><circle r="7.0" cx="459.4" cy="585.1"/><circle r="7.0" cx="459.4" cy="584.4"/><circle r="7.0" cx="463.3" cy="582.6"/><circle r="7.0" cx="462.3" cy="583.4"/><circle r="7.0" cx="463.6" cy="582.3"/><circle r="7.0" cx="465.7" cy="582.5"/><circle r="7.0" cx="467.4" cy="583.3"/><circle r="7.0" cx="468.4" cy="582.3"/><circle r="7.0" cx="467.8" cy="581.6"/><circle r="7.0" cx="469.9" cy="580.0"/><circle r="7.0" cx="469.1" cy="580.2"/><circle r="7.0" cx="472.4" cy="579.9"/><circle r="7.0" cx="472.8" cy="578.1"/><circle r="7.0" cx="474.5" cy="577.3"/><circle r="7.0" cx="473.8" cy="576.5"/><circle r="7.0" cx="476.5" cy="576.6"/><circle r="7.0" cx="476.4" cy="575.9"/><circle r="7.0" cx="477.6" cy="574.6"/><circle r="7.0" cx="478.7" cy="576.3"/><circle r="7.0" cx="481.4" cy="573.8"/><circle r="7.0" cx="480.0" cy="572.1"/><circle r="7.0" cx="478.5" cy="573.0"/><circle r="7.0" cx="479.7" cy="570.9"/><circle r="7.0" cx="481.0" cy="570.5"/><circle r="7.0" cx="481.1" cy="571.3"/><circle r="7.0" cx="482.2" cy="569.9"/><circle r="7.0" cx="482.0" cy="567.6"/><circle r="7.0" cx="481.6" cy="567.3"/><circle r="7.0" cx="483.1" cy="565.1"/><circle r="7.0" cx="485.3" cy="565.1"/><circle r="7.0" cx="484.0" cy="564.2"/><circle r="7.0" cx="485.6" cy="562.7"/><circle r="7.0" cx="486.1" cy="560.7"/><circle r="7.0" cx="486.5" cy="562.5"/><circle r="7.0" cx="489.1" cy="561.1"/><circle r="7.0" cx="489.8" cy="560.4"/><circle r="7.0" cx="490.5" cy="559.4"/><circle r="7.0" cx="491.0" cy="560.4"/><circle r="7.0" cx="492.1" cy="559.6"/><circle r="7.0" cx="491.1" cy="558.7"/><circle r="7.0" cx="492.5" cy="556.4"/><circle r="7.0" cx="492.1" cy="555.1"/><circle r="7.0" cx="493.8" cy="555.5"/><circle r="7.0" cx="492.1" cy="553.6"/><circle r="7.0" cx="494.6" cy="554.9"/><circle r="7.0" cx="493.8" cy="555.1"/><circle r="7.0" cx="495.8" cy="553.2"/><circle r="7.0" cx="495.9" cy="553.4"/><circle r="7.0" cx="497.2" cy="551.2"/><circle r="7.0" cx="497.5" cy="551.0"/><circle r="7.0" cx="499.0" cy="546.9"/><circle r="7.0" cx="497.6" cy="548.2"/><circle r="7.0" cx="498.4" cy="548.1"/><circle r="7.0" cx="502.0" cy="546.2"/><circle r="7.0" cx="498.9" cy="546.9"/><circle r="7.0" cx="502.8" cy="545.2"/><circle r="7.0" cx="503.2" cy="544.2"/><circle r="7.0" cx="501.7" cy="543.3"/><circle r="7.0" cx="501.2" cy="543.2"/><circle r="7.0" cx="504.1" cy="543.4"/><circle r="7.0" cx="506.4" cy="542.6"/><circle r="7.0" cx="504.9" cy="539.6"/><circle r="7.0" cx="507.3" cy="540.3"/><circle r="7.0" cx="505.2" cy="537.9"/><circle r="7.0" cx="507.5" cy="539.2"/><circle r="7.0" cx="507.0" cy="535.9"/><circle r="7.0" cx="507.2" cy="537.3"/><circle r="7.0" cx="507.5" cy="535.9"/><circle r="7.0" cx="509.1" cy="534.7"/><circle r="7.0" cx="510.7" cy="533.8"/><circle r="7.0" cx="508.9" cy="531.7"/><circle r="7.0" cx="511.5" cy="532.3"/><circle r="7.0" cx="511.6" cy="532.4"/><circle r="7.0" cx="511.4" cy="529.3"/><circle r="7.0" cx="510.1" cy="530.9"/><circle r="7.0" cx="513.2" cy="530.2"/><circle r="7.0" cx="512.4" cy="529.2"/><circle r="7.0" cx="512.3" cy="527.6"/><circle r="7.0" cx="514.6" cy="526.1"/><circle r="7.0" cx="513.9" cy="523.9"/><circle r="7.0" cx="514.3" cy="525.2"/><circle r="7.0" cx="517.0" cy="524.8"/><circle r="7.0" cx="517.4" cy="521.2"/><circle r="7.0" cx="517.5" cy="522.1"/><circle r="7.0" cx="519.8" cy="521.2"/><circle r="7.0" cx="519.7" cy="520.3"/><circle r="7.0" cx="519.8" cy="519.3"/><circle r="7.0" cx="519.6" cy="519.7"/><circle r="7.0" cx="522.7" cy="519.4"/><circle r="7.0" cx="522.4" cy="516.0"/><circle r="7.0" cx="521.7" cy="517.9"/><circle r="7.0" cx="522.4" cy="517.5"/><circle r="7.0" cx="524.3" cy="514.6"/><circle r="7.0" cx="522.4" cy="514.5"/><circle r="7.0" cx="523.8" cy="513.4"/><circle r="7.0" cx="523.5" cy="511.4"/><circle r="7.0" cx="522.6" cy="510.9"/><circle r="7.0" cx="524.6" cy="510.6"/><circle r="7.0" cx="525.3" cy="510.7"/><circle r="7.0" cx="526.5" cy="509.0"/><circle r="7.0" cx="525.3" cy="508.6"/><circle r="7.0" cx="526.1" cy="505.8"/><circle r="7.0" cx="526.7" cy="505.3"/><circle r="7.0" cx="529.4" cy="504.5"/><circle r="7.0" cx="529.4" cy="505.4"/><circle r="7.0" cx="529.5" cy="501.9"/><circle r="7.0" cx="531.2" cy="502.2"/><circle r="7.0" cx="531.9" cy="501.2"/><circle r="7.0" cx="532.9" cy="501.5"/><circle r="7.0" cx="533.2" cy="500.7"/><circle r="7.0" cx="533.8" cy="499.9"/><circle r="7.0" cx="534.5" cy="500.3"/><circle r="7.0" cx="536.1" cy="499.9"/><circle r="7.0" cx="536.5" cy="498.5"/><circle r="7.0" cx="538.1" cy="495.6"/><circle r="7.0" cx="536.4" cy="496.9"/><circle r="7.0" cx="537.7" cy="495.3"/><circle r="7.0" cx="540.8" cy="496.4"/><circle r="7.0" cx="539.6" cy="495.5"/><circle r="7.0" cx="541.9" cy="494.0"/><circle r="7.0" cx="542.2" cy="495.5"/><circle r="7.0" cx="543.8" cy="493.6"/><circle r="7.0" cx="543.9" cy="491.8"/><circle r="7.0" cx="543.1" cy="492.9"/><circle r="7.0" cx="547.2" cy="492.3"/><circle r="7.0" cx="546.1" cy="491.6"/><circle r="7.0" cx="549.2" cy="492.5"/><circle r="7.0" cx="551.2" cy="491.4"/><circle r="7.0" cx="551.2" cy="489.8"/><circle r="7.0" cx="551.5" cy="490.0"/><circle r="7.0" cx="552.7" cy="489.7"/><circle r="7.0" cx="554.2" cy="490.5"/><circle r="7.0" cx="554.5" cy="489.1"/><circle r="7.0" cx="555.2" cy="489.4"/><circle r="7.0" cx="556.2" cy="487.7"/><circle r="7.0" cx="556.7" cy="486.9"/><circle r="7.0" cx="558.5" cy="484.2"/><circle r="7.0" cx="559.8" cy="485.6"/><circle r="7.0" cx="560.3" cy="482.5"/><circle r="7.0" cx="560.0" cy="483.6"/><circle r="7.0" cx="560.8" cy="482.4"/><circle r="7.0" cx="562.1" cy="482.4"/><circle r="7.0" cx="562.9" cy="482.6"/><circle r="7.0" cx="562.3" cy="481.0"/><circle r="7.0" cx="564.3" cy="479.5"/><circle r="7.0" cx="563.2" cy="476.7"/><circle r="7.0" cx="564.2" cy="477.9"/><circle r="7.0" cx="562.8" cy="476.8"/><circle r="7.0" cx="564.0" cy="474.6"/><circle r="7.0" cx="563.7" cy="473.9"/><circle r="7.0" cx="564.0" cy="472.9"/><circle r="7.0" cx="566.2" cy="470.2"/><circle r="7.0" cx="563.8" cy="469.4"/><circle r="7.0" cx="566.0" cy="468.7"/><circle r="7.0" cx="565.8" cy="468.0"/><circle r="7.0" cx="566.7" cy="466.2"/><circle r="7.0" cx="567.8" cy="466.6"/><circle r="7.0" cx="568.6" cy="465.8"/><circle r="7.0" cx="567.9" cy="463.1"/><circle r="7.0" cx="569.8" cy="463.6"/><circle r="7.0" cx="571.6" cy="461.8"/><circle r="7.0" cx="569.4" cy="461.5"/><circle r="7.0" cx="573.4" cy="459.8"/><circle r="7.0" cx="570.6" cy="459.9"/><circle r="7.0" cx="571.7" cy="458.3"/><circle r="7.0" cx="571.7" cy="456.3"/><circle r="7.0" cx="572.0" cy="456.4"/><circle r="7.0" cx="574.7" cy="456.0"/><circle r="7.0" cx="575.0" cy="453.2"/><circle r="7.0" cx="575.9" cy="453.4"/><circle r="7.0" cx="575.6" cy="452.3"/><circle r="7.0" cx="578.3" cy="450.6"/><circle r="7.0" cx="576.1" cy="448.8"/><circle r="7.0" cx="578.5" cy="448.1"/><circle r="7.0" cx="580.4" cy="446.7"/><circle r="7.0" cx="578.2" cy="445.8"/><circle r="7.0" cx="578.3" cy="444.0"/><circle r="7.0" cx="581.2" cy="441.3"/><circle r="7.0" cx="579.6" cy="444.5"/><circle r="7.0" cx="580.4" cy="441.0"/><circle r="7.0" cx="580.0" cy="440.5"/><circle r="7.0" cx="581.9" cy="438.7"/><circle r="7.0" cx="582.0" cy="438.9"/><circle r="7.0" cx="583.8" cy="438.1"/><circle r="7.0" cx="583.0" cy="437.0"/><circle r="7.0" cx="584.7" cy="434.2"/><circle r="7.0" cx="584.4" cy="433.3"/><circle r="7.0" cx="586.8" cy="433.9"/><circle r="7.0" cx="586.8" cy="433.2"/><circle r="7.0" cx="589.7" cy="431.1"/><circle r="7.0" cx="587.9" cy="431.7"/><circle r="7.0" cx="589.2" cy="427.8"/><circle r="7.0" cx="591.8" cy="428.9"/><circle r="7.0" cx="591.6" cy="428.4"/><circle r="7.0" cx="591.5" cy="426.0"/><circle r="7.0" cx="591.9" cy="426.5"/><circle r="7.0" cx="594.3" cy="423.2"/><circle r="7.0" cx="591.8" cy="423.4"/><circle r="7.0" cx="594.0" cy="422.4"/><circle r="7.0" cx="593.0" cy="418.7"/><circle r="7.0" cx="595.2" cy="420.0"/><circle r="7.0" cx="597.8" cy="419.3"/><circle r="7.0" cx="595.9" cy="416.9"/><circle r="7.0" cx="595.8" cy="416.4"/><circle r="7.0" cx="597.6" cy="415.8"/><circle r="7.0" cx="599.6" cy="412.8"/><circle r="7.0" cx="600.8" cy="413.5"/><circle r="7.0" cx="601.2" cy="412.6"/><circle r="7.0" cx="602.4" cy="412.8"/><circle r="7.0" cx="602.9" cy="412.8"/><circle r="7.0" cx="602.2" cy="410.6"/><circle r="7.0" cx="604.6" cy="408.5"/><circle r="7.0" cx="605.8" cy="409.9"/><circle r="7.0" cx="606.2" cy="407.8"/><circle r="7.0" cx="606.3" cy="406.9"/><circle r="7.0" cx="607.4" cy="407.1"/><circle r="7.0" cx="609.9" cy="405.4"/><circle r="7.0" cx="609.8" cy="404.6"/><circle r="7.0" cx="612.9" cy="401.5"/><circle r="7.0" cx="613.7" cy="401.0"/><circle r="7.0" cx="614.3" cy="402.9"/><circle r="7.0" cx="615.4" cy="399.8"/><circle r="7.0" cx="616.6" cy="402.5"/><circle r="7.0" cx="618.0" cy="398.8"/><circle r="7.0" cx="620.2" cy="397.8"/><circle r="7.0" cx="619.6" cy="397.2"/><circle r="7.0" cx="621.5" cy="394.7"/><circle r="7.0" cx="619.6" cy="397.0"/><circle r="7.0" cx="622.6" cy="395.3"/><circle r="7.0" cx="625.0" cy="395.8"/><circle r="7.0" cx="625.4" cy="392.7"/><circle r="7.0" cx="627.1" cy="393.3"/><circle r="7.0" cx="628.2" cy="391.4"/><circle r="7.0" cx="628.0" cy="389.7"/><circle r="7.0" cx="628.7" cy="389.5"/><circle r="7.0" cx="630.3" cy="389.5"/><circle r="7.0" cx="633.0" cy="386.3"/><circle r="7.0" cx="631.9" cy="385.5"/><circle r="7.0" cx="633.4" cy="383.0"/><circle r="7.0" cx="635.1" cy="382.3"/><circle r="7.0" cx="635.8" cy="381.6"/><circle r="7.0" cx="635.5" cy="380.6"/><circle r="7.0" cx="637.9" cy="377.9"/><circle r="7.0" cx="637.9" cy="374.7"/><circle r="7.0" cx="638.1" cy="377.1"/><circle r="7.0" cx="638.7" cy="373.9"/><circle r="7.0" cx="641.8" cy="368.9"/><circle r="7.0" cx="640.1" cy="368.9"/><circle r="7.0" cx="641.0" cy="367.0"/><circle r="7.0" cx="642.6" cy="364.7"/><circle r="7.0" cx="641.6" cy="362.3"/><circle r="7.0" cx="641.8" cy="361.8"/><circle r="7.0" cx="644.4" cy="360.4"/><circle r="7.0" cx="642.5" cy="359.5"/><circle r="7.0" cx="643.7" cy="357.5"/><circle r="7.0" cx="645.4" cy="357.7"/><circle r="7.0" cx="646.1" cy="354.2"/><circle r="7.0" cx="646.7" cy="352.8"/><circle r="7.0" cx="648.2" cy="351.8"/><circle r="7.0" cx="648.2" cy="350.0"/><circle r="7.0" cx="648.2" cy="351.5"/><circle r="7.0" cx="649.8" cy="348.6"/><circle r="7.0" cx="649.0" cy="347.0"/><circle r="7.0" cx="649.2" cy="344.3"/><circle r="7.0" cx="651.7" cy="343.0"/><circle r="7.0" cx="652.9" cy="340.5"/><circle r="7.0" cx="654.2" cy="341.7"/><circle r="7.0" cx="654.2" cy="340.2"/><circle r="7.0" cx="655.3" cy="338.5"/><circle r="7.0" cx="657.6" cy="337.8"/><circle r="7.0" cx="657.8" cy="335.5"/><circle r="7.0" cx="659.8" cy="334.3"/><circle r="7.0" cx="663.4" cy="334.8"/><circle r="7.0" cx="661.7" cy="333.4"/><circle r="7.0" cx="662.3" cy="331.4"/><circle r="7.0" cx="665.8" cy="331.1"/><circle r="7.0" cx="666.9" cy="329.3"/><circle r="7.0" cx="669.9" cy="326.6"/><circle r="7.0" cx="669.7" cy="325.8"/><circle r="7.0" cx="672.3" cy="323.9"/><circle r="7.0" cx="672.3" cy="323.7"/><circle r="7.0" cx="673.7" cy="322.3"/><circle r="7.0" cx="678.3" cy="318.7"/><circle r="7.0" cx="677.4" cy="317.1"/><circle r="7.0" cx="679.1" cy="316.5"/><circle r="7.0" cx="680.6" cy="312.2"/><circle r="7.0" cx="682.4" cy="307.6"/><circle r="7.0" cx="681.7" cy="306.3"/><circle r="7.0" cx="684.3" cy="306.1"/><circle r="7.0" cx="685.6" cy="302.8"/><circle r="7.0" cx="686.3" cy="301.3"/><circle r="7.0" cx="686.6" cy="301.9"/><circle r="7.0" cx="689.8" cy="296.4"/><circle r="7.0" cx="689.7" cy="295.5"/><circle r="7.0" cx="687.8" cy="293.8"/><circle r="7.0" cx="688.9" cy="292.6"/><circle r="7.0" cx="691.2" cy="291.6"/><circle r="7.0" cx="690.4" cy="290.2"/><circle r="7.0" cx="692.3" cy="286.7"/><circle r="7.0" cx="692.3" cy="285.5"/><circle r="7.0" cx="695.3" cy="285.5"/><circle r="7.0" cx="693.8" cy="282.1"/><circle r="7.0" cx="698.1" cy="279.0"/><circle r="7.0" cx="696.8" cy="279.5"/><circle r="7.0" cx="697.9" cy="275.9"/><circle r="7.0" cx="698.5" cy="273.8"/><circle r="7.0" cx="700.7" cy="274.5"/><circle r="7.0" cx="701.1" cy="272.1"/><circle r="7.0" cx="701.9" cy="272.6"/><circle r="7.0" cx="702.7" cy="270.3"/><circle r="7.0" cx="701.7" cy="267.5"/><circle r="7.0" cx="702.4" cy="267.2"/><circle r="7.0" cx="701.8" cy="265.0"/><circle r="7.0" cx="706.5" cy="261.7"/><circle r="7.0" cx="706.1" cy="260.5"/><circle r="7.0" cx="705.2" cy="259.5"/><circle r="7.0" cx="706.3" cy="258.9"/><circle r="7.0" cx="706.3" cy="255.5"/><circle r="7.0" cx="707.3" cy="255.0"/><circle r="7.0" cx="709.1" cy="252.7"/><circle r="7.0" cx="710.5" cy="250.8"/><circle r="7.0" cx="710.2" cy="248.3"/><circle r="7.0" cx="710.7" cy="247.4"/><circle r="7.0" cx="712.2" cy="244.2"/><circle r="7.0" cx="714.5" cy="242.7"/><circle r="7.0" cx="712.7" cy="241.1"/><circle r="7.0" cx="715.1" cy="239.6"/><circle r="7.0" cx="715.8" cy="238.5"/><circle r="7.0" cx="718.3" cy="236.9"/><circle r="7.0" cx="718.3" cy="233.2"/><circle r="7.0" cx="720.3" cy="234.1"/><circle r="7.0" cx="721.2" cy="232.3"/><circle r="7.0" cx="723.0" cy="230.0"/><circle r="7.0" cx="724.0" cy="219.1"/><circle r="7.0" cx="724.5" cy="210.7"/><circle r="7.0" cx="725.9" cy="202.7"/><circle r="7.0" cx="725.9" cy="203.5"/><circle r="7.0" cx="726.5" cy="180.1"/><circle r="7.0" cx="730.7" cy="145.3"/><circle r="7.0" cx="517.0" cy="520.9"/><circle r="7.0" cx="517.1" cy="521.3"/><circle r="7.0" cx="517.7" cy="521.2"/><circle r="7.0" cx="476.0" cy="575.9"/><circle r="7.0" cx="476.5" cy="577.2"/><circle r="7.0" cx="486.5" cy="565.3"/><circle r="7.0" cx="486.5" cy="564.2"/><circle r="7.0" cx="496.0" cy="553.7"/><circle r="7.0" cx="495.7" cy="553.4"/><circle r="7.0" cx="507.9" cy="538.1"/><circle r="7.0" cx="508.5" cy="538.0"/><circle r="7.0" cx="564.2" cy="474.0"/><circle r="7.0" cx="564.3" cy="474.2"/><circle r="7.0" cx="565.0" cy="474.1"/><circle r="7.0" cx="550.7" cy="489.0"/><circle r="7.0" cx="552.4" cy="489.3"/><circle r="7.0" cx="551.0" cy="490.5"/><circle r="7.0" cx="648.8" cy="350.7"/><circle r="7.0" cx="647.7" cy="351.9"/><circle r="7.0" cx="648.3" cy="350.7"/><circle r="7.0" cx="599.0" cy="412.3"/><circle r="7.0" cx="598.2" cy="413.6"/><circle r="7.0" cx="616.3" cy="400.0"/><circle r="7.0" cx="615.2" cy="399.2"/><circle r="7.0" cx="701.3" cy="272.0"/><circle r="7.0" cx="702.1" cy="273.8"/><circle r="7.0" cx="703.5" cy="273.6"/><circle r="7.0" cx="700.4" cy="268.4"/><circle r="7.0" cx="698.4" cy="268.6"/><circle r="7.0" cx="684.3" cy="307.2"/><circle r="7.0" cx="684.8" cy="306.9"/><circle r="7.0" cx="676.8" cy="324.0"/><circle r="7.0" cx="677.7" cy="322.8"/><circle r="7.0" cx="718.6" cy="233.2"/><circle r="7.0" cx="720.0" cy="235.1"/><circle r="7.0" cx="428.1" cy="608.4"/><circle r="7.0" cx="427.7" cy="609.0"/><circle r="7.0" cx="427.7" cy="609.1"/><circle r="7.0" cx="413.0" cy="624.9"/><circle r="7.0" cx="413.2" cy="625.4"/><circle r="7.0" cx="448.1" cy="592.2"/><circle r="7.0" cx="448.0" cy="592.9"/><circle r="7.0" cx="361.2" cy="666.0"/><circle r="7.0" cx="361.1" cy="664.8"/><circle r="7.0" cx="362.0" cy="665.1"/><circle r="7.0" cx="346.8" cy="671.7"/><circle r="7.0" cx="345.1" cy="670.7"/><circle r="7.0" cx="321.0" cy="693.6"/><circle r="7.0" cx="320.6" cy="694.7"/><circle r="7.0" cx="321.2" cy="694.5"/><circle r="7.0" cx="116.1" cy="830.6"/><circle r="7.0" cx="116.1" cy="830.6"/><circle r="7.0" cx="116.1" cy="830.6"/><circle r="7.0" cx="116.1" cy="830.6"/><circle r="7.0" cx="116.1" cy="830.6"/><circle r="7.0" cx="116.1" cy="830.6"/><circle r="7.0" cx="116.1" cy="830.6"/><circle r="7.0" cx="116.1" cy="830.6"/><circle r="7.0" cx="116.1" cy="830.6"/><circle r="7.0" cx="116.1" cy="830.6"/><circle r="7.0" cx="116.1" cy="830.6"/><circle r="7.0" cx="116.1" cy="830.6"/><circle r="7.0" cx="116.1" cy="830.6"/><circle r="7.0" cx="116.1" cy="830.6"/><circle r="7.0" cx="116.1" cy="830.6"/><circle r="7.0" cx="116.1" cy="830.6"/><circle r="7.0" cx="116.1" cy="830.6"/><circle r="7.0" cx="116.1" cy="830.6"/><circle r="7.0" cx="116.1" cy="830.6"/><circle r="7.0" cx="116.1" cy="830.6"/><circle r="7.0" cx="116.1" cy="830.6"/><circle r="7.0" cx="116.1" cy="830.6"/><circle r="7.0" cx="116.1" cy="830.6"/><circle r="7.0" cx="116.1" cy="830.6"/><circle r="7.0" cx="116.1" cy="830.6"/><circle r="7.0" cx="116.1" cy="830.6"/><circle r="7.0" cx="116.1" cy="830.6"/><circle r="7.0" cx="116.1" cy="830.6"/><circle r="7.0" cx="116.1" cy="830.6"/><circle r="7.0" cx="116.1" cy="830.6"/></g>
<line x1="40.21" y1="905.77" x2="878.89" y2="71.15" stroke="#0000ff" stroke-opacity="0.33" stroke-width="4.1"/>
<line x1="115.8" y1="844.4" x2="729.4" y2="312.7" stroke="#ff0000" stroke-opacity="0.33" stroke-width="4.1" stroke-linecap="square"/>
</g>
<rect x="67.5" y="110.5" width="775.00" height="770.00" fill="none" stroke="#000" stroke-width="1.1"/>
<g stroke="#000" stroke-width="1.1"><line x1="116.50" y1="880.5" x2="116.50" y2="885.4"/><line x1="269.50" y1="880.5" x2="269.50" y2="885.4"/><line x1="421.50" y1="880.5" x2="421.50" y2="885.4"/><line x1="574.50" y1="880.5" x2="574.50" y2="885.4"/><line x1="726.50" y1="880.5" x2="726.50" y2="885.4"/><line x1="62.6" y1="831.50" x2="67.5" y2="831.50"/><line x1="62.6" y1="679.50" x2="67.5" y2="679.50"/><line x1="62.6" y1="528.50" x2="67.5" y2="528.50"/><line x1="62.6" y1="376.50" x2="67.5" y2="376.50"/><line x1="62.6" y1="224.50" x2="67.5" y2="224.50"/></g>
<text x="108.64" y="900.75" font-size="14.3" transform="scale(1.03,1)">0</text><text x="248.01 256.68 265.18" y="900.75" font-size="14.3" transform="scale(1.03,1)">200</text><text x="396.23 404.73 413.22" y="900.75" font-size="14.3" transform="scale(1.03,1)">400</text><text x="544.22 552.84 561.33" y="900.75" font-size="14.3" transform="scale(1.03,1)">600</text><text x="692.27 700.88 709.38" y="900.75" font-size="14.3" transform="scale(1.03,1)">800</text><text x="47.40" y="836.3" font-size="14.3" transform="scale(1.03,1)">0</text><text x="30.23 38.90 47.40" y="684.55" font-size="14.3" transform="scale(1.03,1)">200</text><text x="30.41 38.90 47.40" y="532.8" font-size="14.3" transform="scale(1.03,1)">400</text><text x="30.29 38.90 47.40" y="381.04999999999995" font-size="14.3" transform="scale(1.03,1)">600</text><text x="30.29 38.90 47.40" y="229.29999999999995" font-size="14.3" transform="scale(1.03,1)">800</text>
<text x="395.57 406.44 411.41 426.54 436.60 440.34 451.19 456.98 466.86" y="921.0" font-size="16.7" transform="scale(1.04,1)">Simulated</text>
<g transform="translate(21.9,0) rotate(-90)"><text x="-515.44 -502.33 -492.66 -484.16 -473.91 -467.56 -458.44 -448.68" y="0" font-size="16.7" transform="scale(1.04,1)">Observed</text></g>
</svg>
</body></html>
